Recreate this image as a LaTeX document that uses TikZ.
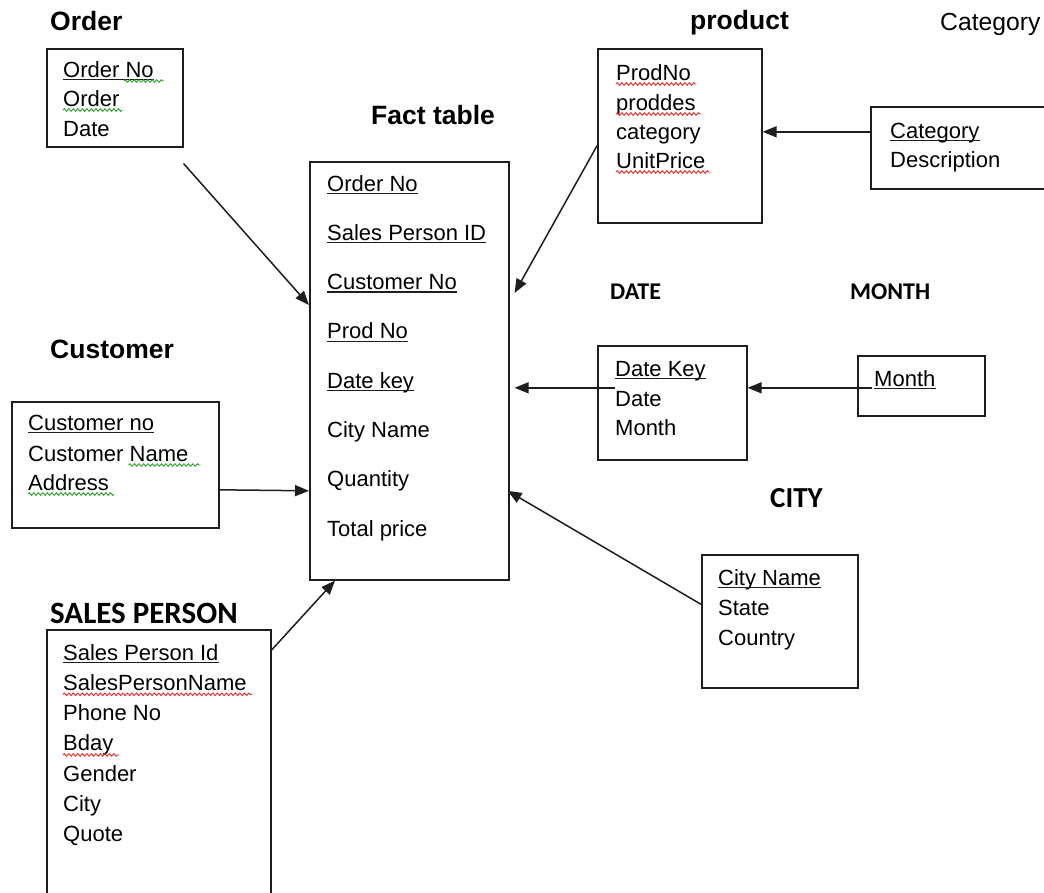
\documentclass[tikz,border=0pt]{standalone}
\usepackage{fontspec}
\setmainfont{Liberation Sans}
\newfontfamily\calibri{Carlito}
\usetikzlibrary{arrows.meta,decorations.pathmorphing}
\definecolor{Frame}{HTML}{1E1E1E}
\definecolor{SpellRed}{HTML}{F02828}
\definecolor{GrammarGreen}{HTML}{2EA02E}

\begin{document}
\begin{tikzpicture}[x=1pt,y=-1pt,
  tbl/.style={draw=Frame,line width=1.6pt,anchor=north west,inner sep=0pt},
  attr/.style={anchor=base west,inner sep=0pt,font=\fontsize{22}{25}\selectfont},
  ttl/.style={anchor=base west,inner sep=0pt,font=\fontsize{26.5}{30}\selectfont\bfseries},
  cttl/.style={anchor=base west,inner sep=0pt,font=\calibri\bfseries},
  link/.style={-{Triangle[length=14pt,width=11pt]},line width=1.5pt,draw=Frame},
  key/.style={line width=1.3pt,draw=Frame},
  typo/.style={draw=SpellRed,line width=0.9pt,decorate,decoration={snake,amplitude=1.3pt,segment length=4.5pt}},
  gram/.style={typo,draw=GrammarGreen}
]
  \fill[white] (0,0) rectangle (1044,892);
  \useasboundingbox (0,0) rectangle (1044,892);

  % titles
  \node[ttl] (tord) at (50,30) {Order};
  \node[ttl] (tfact) at (371,124) {Fact table};
  \node[ttl] (tprod) at (690,29) {product};
  \node[ttl,font=\fontsize{24.7}{28}\selectfont] (tcat) at (940,30) {Category};
  \node[ttl] (tcust) at (50,358) {Customer};
  \node[cttl,font=\calibri\bfseries\fontsize{31}{34}\selectfont] (tsp) at (50,623) {SALES PERSON};
  \node[cttl,font=\calibri\bfseries\fontsize{24}{28}\selectfont] (tdate) at (610,299) {DATE};
  \node[cttl,font=\calibri\bfseries\fontsize{24}{28}\selectfont] (tmon) at (850,299) {MONTH};
  \node[cttl,font=\calibri\bfseries\fontsize{29}{32}\selectfont] (tcity) at (770,507) {CITY};

  % tables
  \node[tbl,minimum width=136pt,minimum height=98pt] (ord) at (46,48) {};
  \node[tbl,minimum width=199pt,minimum height=418pt] (fact) at (309,161) {};
  \node[tbl,minimum width=164pt,minimum height=174pt] (prod) at (597,48) {};
  \node[tbl,minimum width=176pt,minimum height=82pt] (cat) at (870,106) {};
  \node[tbl,minimum width=207pt,minimum height=126pt] (cust) at (11,401) {};
  \node[tbl,minimum width=224pt,minimum height=268pt] (sp) at (46,629) {};
  \node[tbl,minimum width=149pt,minimum height=114pt] (date) at (597,345) {};
  \node[tbl,minimum width=127pt,minimum height=60pt] (mon) at (857,355) {};
  \node[tbl,minimum width=156pt,minimum height=133pt] (city) at (701,554) {};

  % attributes
  \node[attr] (o1) at (63,77) {Order No};
  \node[attr] (o2) at (63,106) {Order};
  \node[attr] (o3) at (63,136) {Date};

  \foreach \txt [count=\i] in {Order No,Sales Person ID,Customer No,Prod No,Date key,City Name,Quantity,Total price}
    \node[attr] (f\i) at (327,{191+49.3*(\i-1)}) {\txt};

  \node[attr] (p1) at (616,80) {ProdNo};
  \node[attr] (p2) at (616,110) {proddes};
  \node[attr] (p3) at (616,139) {category};
  \node[attr] (p4) at (616,168) {UnitPrice};

  \node[attr] (c1) at (890,138) {Category};
  \node[attr] (c2) at (890,167) {Description};

  \node[attr] (u1) at (28,430) {Customer no};
  \node[attr] (u2) at (28,461) {Customer Name};
  \node[attr] (u3) at (28,490) {Address};

  \foreach \txt [count=\i] in {Sales Person Id,SalesPersonName,Phone No,Bday,Gender,City,Quote}
    \node[attr] (s\i) at (63,{660+30.3*(\i-1)}) {\txt};

  \node[attr] (d1) at (615,376) {Date Key};
  \node[attr] (d2) at (615,406) {Date};
  \node[attr] (d3) at (615,435) {Month};

  \node[attr] (m1) at (874,386) {Month};

  \node[attr] (t1) at (718,585) {City Name};
  \node[attr] (t2) at (718,615) {State};
  \node[attr] (t3) at (718,645) {Country};

  % keys
  \foreach \n in {o1,f1,f2,f3,f4,f5,c1,u1,s1,d1,m1,t1}
    \draw[key] ([yshift=-2.5pt]\n.base west) -- ([yshift=-2.5pt]\n.base east);

  % spelling marks
  \foreach \n in {p1,p2,p4,s2,s4}
    \draw[typo] ([yshift=-4pt]\n.base west) -- ([xshift=5pt,yshift=-4pt]\n.base east);
  \draw[gram] ([xshift=-30pt,yshift=-4pt]o1.base east) -- ([xshift=10pt,yshift=-4pt]o1.base east);
  \draw[gram] ([yshift=-4pt]o2.base west) -- ([xshift=3pt,yshift=-4pt]o2.base east);
  \draw[gram] ([xshift=-60pt,yshift=-4pt]u2.base east) -- ([xshift=12pt,yshift=-4pt]u2.base east);
  \draw[gram] ([yshift=-4pt]u3.base west) -- ([xshift=5pt,yshift=-4pt]u3.base east);

  % links to the fact table
  \draw[link] ([yshift=-16pt]ord.south east) -- ([yshift=-144pt]fact.north west);
  \draw[link] ([yshift=-10pt]prod.west) -- ([xshift=5pt,yshift=-132pt]fact.north east);
  \draw[link] ([yshift=16pt]cat.west) -- ([yshift=4pt]prod.east);
  \draw[link] ([yshift=-25pt]cust.east) -- ([yshift=-120pt]fact.west);
  \draw[link] ([xshift=18pt,yshift=15pt]date.west) -- ([xshift=5pt,yshift=-17pt]fact.east);
  \draw[link] ([xshift=15pt,yshift=-2pt]mon.west) -- ([yshift=15pt]date.east);
  \draw[link] ([yshift=17pt]city.west) -- ([xshift=-2pt,yshift=-120pt]fact.east);
  \draw[link] ([yshift=-21pt]sp.north east) -- ([xshift=26pt]fact.south west);
\end{tikzpicture}
\end{document}
